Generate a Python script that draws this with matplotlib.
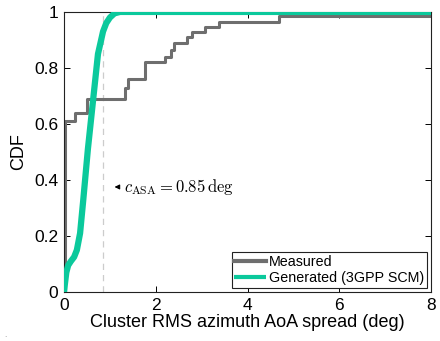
import matplotlib
matplotlib.use("Agg")
import matplotlib.pyplot as plt

plt.rcParams['font.family'] = ['Liberation Sans', 'DejaVu Sans']
plt.rcParams['mathtext.fontset'] = 'cm'

# Measured empirical CDF (step positions and levels)
meas_x = [0.0, 0.02, 0.24, 0.5, 1.33, 1.4, 1.77, 2.21, 2.32, 2.40, 2.69, 2.78, 3.08, 3.37, 4.68, 8.0]
meas_y = [0.0, 0.61, 0.64, 0.69, 0.73, 0.76, 0.82, 0.84, 0.865, 0.89, 0.91, 0.93, 0.946, 0.964, 0.986, 0.986]

# Generated (3GPP SCM) CDF
gen_x = [0.0, 0.02, 0.05, 0.09, 0.15, 0.22, 0.28, 0.35, 0.42, 0.52, 0.63, 0.74, 0.85, 0.92, 1.0, 1.1, 1.22, 8.0]
gen_y = [0.0, 0.03, 0.07, 0.095, 0.11, 0.125, 0.15, 0.21, 0.33, 0.51, 0.68, 0.85, 0.93, 0.96, 0.98, 0.995, 1.0, 1.0]

c_asa = 0.85
xticks = [0, 2, 4, 6, 8]
yticks = [0, 0.2, 0.4, 0.6, 0.8, 1]
ytick_labels = ['0', '0.2', '0.4', '0.6', '0.8', '1']

fig = plt.figure(figsize=(4.4, 3.41), dpi=100)
ax = fig.add_axes([0.1455, 0.1437, 0.8345, 0.8213])

ax.axvline(c_asa, color='#cccccc', lw=0.9, ls=(0, (5, 4)), zorder=1)
ax.plot(meas_x, meas_y, drawstyle='steps-post', color='#6e6e6e', lw=2.2, label='Measured', zorder=2)
ax.plot(gen_x, gen_y, color='#0bc99c', lw=4.5, label='Generated (3GPP SCM)', zorder=3,
        solid_capstyle='butt', solid_joinstyle='round')

ax.annotate('', xy=(1.04, 0.375), xytext=(1.26, 0.375),
            arrowprops=dict(arrowstyle='-|>', color='black', lw=0.8, mutation_scale=7))
ax.text(1.31, 0.375, r'$c_{\mathrm{ASA}} = 0.85\,\mathrm{deg}$', fontsize=12, va='center', ha='left')

ax.set_xlim(0, 8)
ax.set_ylim(0, 1)
ax.set_xticks(xticks)
ax.set_yticks(yticks)
ax.set_yticklabels(ytick_labels)
ax.tick_params(direction='in', top=True, right=True, labelsize=12.5, length=4, width=0.7, pad=4)
for s in ax.spines.values():
    s.set_linewidth(0.8)
    s.set_color('#222222')

ax.set_xlabel('Cluster RMS azimuth AoA spread (deg)', fontsize=13, labelpad=1)
ax.set_ylabel('CDF', fontsize=13, labelpad=5)

leg = ax.legend(loc='lower right', fontsize=10.3, handlelength=2.2, handletextpad=0.2,
                borderpad=0.2, labelspacing=0.15, fancybox=False, framealpha=1,
                edgecolor='#222222', borderaxespad=0.3)
leg.get_frame().set_linewidth(0.8)
for line in leg.get_lines():
    line.set_linewidth(3.0)

fig.text(0.01, 0.012, '.', color='#888888', fontsize=6)

fig.savefig('out.png', dpi=100)
